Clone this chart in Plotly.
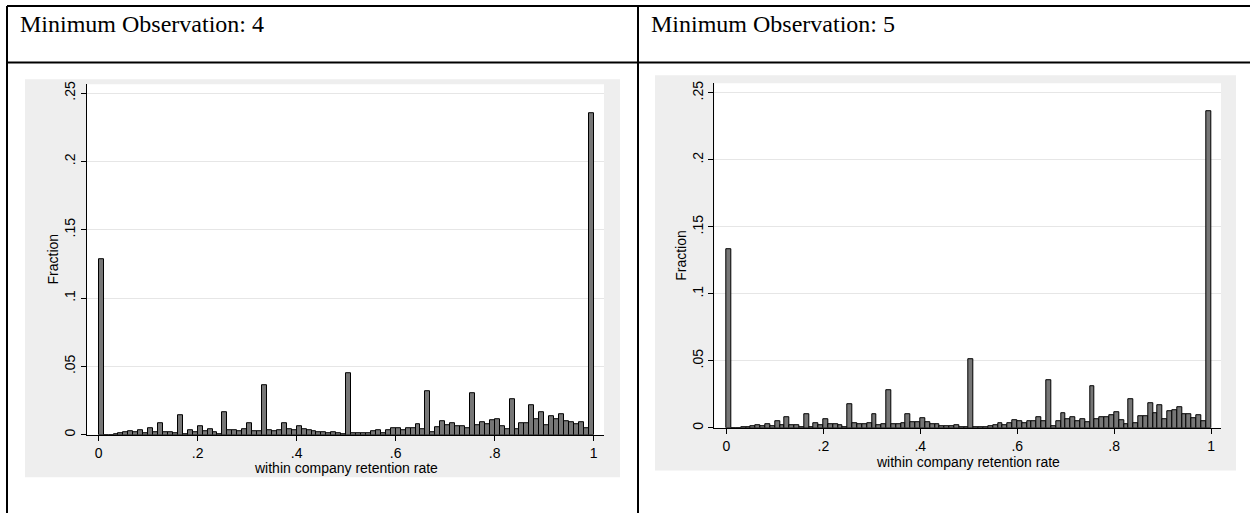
import numpy as np
import plotly.graph_objects as go

# ---------------- data ----------------
bin_width = 0.01
n_bins = 100
bin_starts = [i * bin_width for i in range(n_bins)]

# Minimum Observation: 4  (fraction per bin)
frac_min4 = [
    0.1285, 0.0, 0.0, 0.0003, 0.001, 0.0017, 0.0024, 0.0017, 0.003, 0.0015,
    0.0048, 0.002, 0.0085, 0.002, 0.0017, 0.0012, 0.0143, 0.0005, 0.003, 0.002,
    0.006, 0.0027, 0.004, 0.002, 0.0005, 0.0167, 0.0036, 0.003, 0.0024, 0.004,
    0.0087, 0.0024, 0.0024, 0.0362, 0.003, 0.0027, 0.003, 0.0087, 0.004, 0.003,
    0.0063, 0.0041, 0.003, 0.0027, 0.0017, 0.0017, 0.001, 0.0017, 0.0008, 0.0005,
    0.0447, 0.0012, 0.0012, 0.001, 0.001, 0.0024, 0.0036, 0.0015, 0.0034, 0.0046,
    0.0048, 0.0036, 0.005, 0.005, 0.0075, 0.0043, 0.0321, 0.0022, 0.0058, 0.0099,
    0.0072, 0.0082, 0.006, 0.0063, 0.0046, 0.0307, 0.0072, 0.0089, 0.0075, 0.0104,
    0.0116, 0.006, 0.0039, 0.0263, 0.0039, 0.0087, 0.0085, 0.0215, 0.0111, 0.0162,
    0.0068, 0.0138, 0.0114, 0.0152, 0.0101, 0.0094, 0.008, 0.0089, 0.0046, 0.235,
]

# Minimum Observation: 5
frac_min5 = [
    0.1333, 0.0, 0.0, 0.0003, 0.0007, 0.0015, 0.0017, 0.0015, 0.0025, 0.001,
    0.0049, 0.0017, 0.0076, 0.0017, 0.0017, 0.0007, 0.0099, 0.0005, 0.0032, 0.0017,
    0.0062, 0.003, 0.003, 0.002, 0.0005, 0.0175, 0.0037, 0.0027, 0.0027, 0.0034,
    0.0099, 0.0022, 0.003, 0.0279, 0.0025, 0.0027, 0.0037, 0.0099, 0.0042, 0.004,
    0.0069, 0.0042, 0.003, 0.0027, 0.0015, 0.001, 0.001, 0.0017, 0.0007, 0.0003,
    0.0512, 0.0003, 0.0003, 0.0005, 0.0012, 0.0022, 0.0037, 0.002, 0.0032, 0.0057,
    0.0049, 0.0037, 0.0052, 0.0049, 0.0079, 0.0047, 0.0357, 0.001, 0.0052, 0.0106,
    0.0067, 0.0081, 0.0052, 0.0062, 0.004, 0.0313, 0.0062, 0.0079, 0.0076, 0.0091,
    0.0118, 0.0057, 0.003, 0.0217, 0.0034, 0.0089, 0.0089, 0.0182, 0.0106, 0.0167,
    0.0067, 0.0126, 0.0128, 0.0153, 0.0103, 0.0103, 0.0071, 0.0091, 0.0052, 0.2363,
]

panel_titles = ["Minimum Observation: 4", "Minimum Observation: 5"]
x_title = "within company retention rate"
y_title = "Fraction"
x_tickvals = [0, 0.2, 0.4, 0.6, 0.8, 1]
x_ticktext = ["0", ".2", ".4", ".6", ".8", "1"]
y_tickvals = [0, 0.05, 0.1, 0.15, 0.2, 0.25]
y_ticktext = ["0", ".05", ".1", ".15", ".2", ".25"]

# ---------------- layout helpers ----------------
W, H = 1250, 515


def px(x):
    return x / W


def py(y):
    return 1 - y / H


BAR_FILL = "#767676"
GRID = "#E6E6E6"
GRAYBG = "#EEEEEE"
TICKFONT = dict(family="Liberation Sans, Arial", size=14, color="black")

bin_centers = [s + bin_width / 2 for s in bin_starts]

fig = go.Figure()
fig.add_trace(go.Bar(x=bin_centers, y=frac_min4, width=bin_width,
                     marker=dict(color=BAR_FILL, line=dict(color="black", width=1)),
                     xaxis="x", yaxis="y", showlegend=False, hoverinfo="skip"))
fig.add_trace(go.Bar(x=bin_centers, y=frac_min5, width=bin_width,
                     marker=dict(color=BAR_FILL, line=dict(color="black", width=1)),
                     xaxis="x2", yaxis="y2", showlegend=False, hoverinfo="skip"))

# panel geometry (pixels)
panels = [
    dict(xl=87, xr=604, yt=82, yb=436, xrange=[-0.0236, 1.0208], yrange=[0, 0.2565],
         gray=(25, 77, 620, 479)),
    dict(xl=714.3, xr=1221, yt=81, yb=429, xrange=[-0.0252, 1.0206], yrange=[0, 0.2572],
         gray=(655, 73, 1236, 472)),
]

shapes = []
annotations = []
for k, p in enumerate(panels):
    sfx = "" if k == 0 else "2"
    axis_common = dict(showline=True, linecolor="black", linewidth=1,
                       ticks="outside", ticklen=5, tickwidth=1, tickcolor="black",
                       tickfont=TICKFONT, zeroline=False)
    fig.layout["xaxis" + sfx] = dict(domain=[px(p["xl"]), px(p["xr"])], range=p["xrange"],
                                     tickvals=x_tickvals, ticktext=x_ticktext,
                                     showgrid=False, anchor="y" + sfx, **axis_common)
    fig.layout["yaxis" + sfx] = dict(domain=[py(p["yb"]), py(p["yt"])], range=p["yrange"],
                                     tickvals=y_tickvals, ticktext=y_ticktext, tickangle=-90,
                                     showgrid=True, gridcolor=GRID, gridwidth=1,
                                     anchor="x" + sfx, **axis_common)
    gx0, gy0, gx1, gy1 = p["gray"]
    shapes.append(dict(type="rect", xref="paper", yref="paper", layer="below",
                       x0=px(gx0), x1=px(gx1), y0=py(gy1), y1=py(gy0),
                       fillcolor=GRAYBG, line=dict(width=0)))
    shapes.append(dict(type="rect", xref="paper", yref="paper", layer="below",
                       x0=px(p["xl"]), x1=px(p["xr"]), y0=py(p["yb"]), y1=py(p["yt"]),
                       fillcolor="white", line=dict(width=0)))
    # axis titles
    annotations.append(dict(text=y_title, xref="paper", yref="paper",
                            x=px(p["xl"] - 34), y=py((p["yt"] + p["yb"]) / 2),
                            textangle=-90, showarrow=False, xanchor="center", yanchor="middle",
                            font=TICKFONT))
    annotations.append(dict(text=x_title, xref="paper", yref="paper",
                            x=px((p["xl"] + p["xr"]) / 2), y=py(p["yb"] + 34),
                            showarrow=False, xanchor="center", yanchor="middle",
                            font=TICKFONT))

# table titles
for t, xpos in zip(panel_titles, [18, 649]):
    annotations.append(dict(text=t, xref="paper", yref="paper", x=px(xpos), y=py(21),
                            xanchor="left", yanchor="middle", showarrow=False,
                            font=dict(family="Liberation Serif, Times New Roman", size=24,
                                      color="black")))

# table borders
LINE = dict(color="black", width=2)
for (x0, y0, x1, y1) in [(7, 3, 1250, 3), (7, 60, 1250, 60), (7, 3, 7, 515), (638, 3, 638, 515)]:
    shapes.append(dict(type="line", xref="paper", yref="paper",
                       x0=px(x0), x1=px(x1), y0=py(y0), y1=py(y1), line=LINE, layer="above"))

fig.update_layout(width=W, height=H, margin=dict(l=0, r=0, t=0, b=0),
                  paper_bgcolor="white", plot_bgcolor="rgba(0,0,0,0)",
                  shapes=shapes, annotations=annotations, bargap=0, showlegend=False)

fig.write_html("out.html", config={"displayModeBar": False},
               post_script="document.body.style.margin='0';document.body.style.overflow='hidden';")
